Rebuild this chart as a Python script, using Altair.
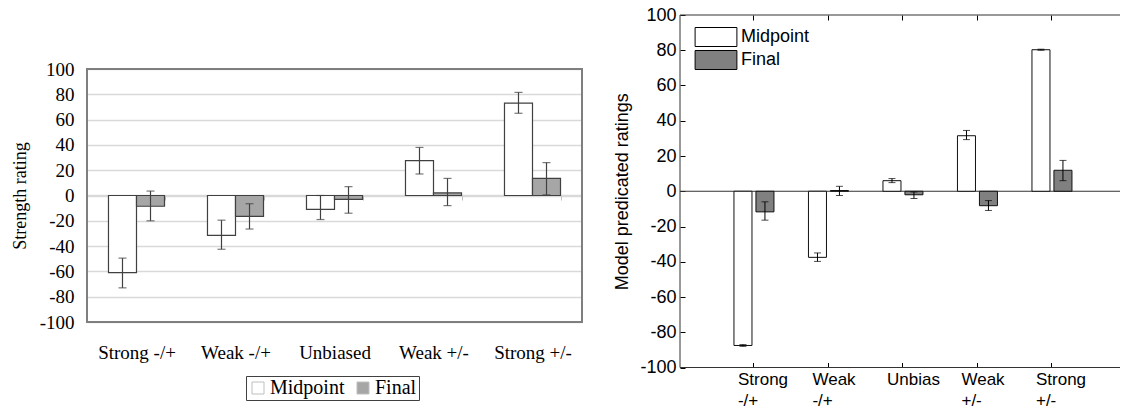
import altair as alt
import pandas as pd

series = ["Midpoint", "Final"]

left_categories = ["Strong -/+", "Weak -/+", "Unbiased", "Weak +/-", "Strong +/-"]
left_midpoint = [-61, -31.5, -11, 27.5, 73]
left_midpoint_lo = [-73, -42.5, -19, 17, 65]
left_midpoint_hi = [-49.5, -19.5, 0, 38, 81.5]
left_final = [-8.5, -16.5, -3, 2, 13.5]
left_final_lo = [-20, -26.5, -14, -8, 0.5]
left_final_hi = [3.5, -6.5, 7, 13.5, 26]

right_categories = ["Strong -/+", "Weak -/+", "Unbias", "Weak +/-", "Strong +/-"]
right_midpoint = [-87.5, -37.5, 6, 31.5, 80.3]
right_midpoint_lo = [-88, -39.8, 4.9, 29.3, 80]
right_midpoint_hi = [-87, -35, 7.2, 34.5, 80.6]
right_final = [-11.7, 0.4, -2, -8.2, 11.9]
right_final_lo = [-16.4, -2.4, -4.1, -10.9, 6]
right_final_hi = [-6, 2.8, -0.4, -5.3, 17.5]

y_ticks = list(range(-100, 101, 20))


def make_table(cats, mid, mid_lo, mid_hi, fin, fin_lo, fin_hi):
    rows = []
    for i, c in enumerate(cats):
        rows.append({"category": c, "series": "Midpoint", "value": mid[i], "lo": mid_lo[i], "hi": mid_hi[i]})
        rows.append({"category": c, "series": "Final", "value": fin[i], "lo": fin_lo[i], "hi": fin_hi[i]})
    return pd.DataFrame(rows)


df_left = make_table(left_categories, left_midpoint, left_midpoint_lo, left_midpoint_hi,
                     left_final, left_final_lo, left_final_hi)
df_right = make_table(right_categories, right_midpoint, right_midpoint_lo, right_midpoint_hi,
                      right_final, right_final_lo, right_final_hi)
one = pd.DataFrame({"d": [0]})
df_right_cats = pd.DataFrame({"category": right_categories})

SERIF = "Liberation Serif"
SANS = "Liberation Sans"
LW, H = 495, 352.5
RW = 440
HYPHEN_LABEL = "'' + datum.value"

# ---------------- left panel ----------------
lx_scale = alt.Scale(paddingInner=0.434, paddingOuter=0.217)
lxo = alt.XOffset("series:N", sort=series, scale=alt.Scale(paddingInner=0, paddingOuter=0))
ly_scale = alt.Scale(domain=[-100, 100], range=[307, 54], nice=False, zero=False)
lx_noaxis = alt.X("category:N", sort=left_categories, axis=None)

base_l = alt.Chart(df_left)

frame_l = alt.Chart(one).mark_rect(fillOpacity=0, stroke="#7f7f7f", strokeWidth=2).encode(
    x=alt.value(0), x2=alt.value(LW), y=alt.datum(100, axis=None), y2=alt.datum(-100)
)

bars_l = base_l.mark_bar(stroke="#404040", strokeWidth=1.2).encode(
    x=alt.X("category:N", sort=left_categories, scale=lx_scale,
            axis=alt.Axis(orient="bottom", offset=-172.5, tickBand="extent", tickSize=5,
                          tickColor="#bfbfbf", domainColor="#d9d9d9", domainWidth=1.5,
                          labelPadding=143, labelFont=SERIF, labelFontSize=19, labelColor="black",
                          labelAngle=0, title=None, grid=False)),
    xOffset=lxo,
    y=alt.Y("value:Q", scale=ly_scale,
            axis=alt.Axis(orient="left", values=y_ticks, labelExpr=HYPHEN_LABEL, grid=True,
                          gridColor="#d9d9d9", gridWidth=1.5,
                          domain=False, ticks=False, labelPadding=13, labelFont=SERIF,
                          labelFontSize=19, labelColor="black", title="Strength rating",
                          titleFont=SERIF, titleFontSize=18, titleFontWeight="normal",
                          titleColor="black", titlePadding=10)),
    color=alt.Color("series:N", sort=series,
                    scale=alt.Scale(domain=series, range=["#ffffff", "#a6a6a6"]),
                    legend=alt.Legend(orient="none", legendX=159, legendY=361, direction="horizontal",
                                      title=None, strokeColor="#404040", padding=2,
                                      symbolType="square", symbolSize=144,
                                      symbolStrokeColor="#bfbfbf", symbolStrokeWidth=1,
                                      labelFont=SERIF, labelFontSize=20, labelColor="black",
                                      labelOffset=2, columnPadding=8)),
)

err_l = base_l.mark_rule(color="#404040", strokeWidth=1.2).encode(
    x=lx_noaxis, xOffset=lxo, y=alt.Y("lo:Q", axis=None), y2="hi:Q"
)
cap_lo_l = base_l.mark_tick(color="#404040", size=8, thickness=1.2).encode(
    x=lx_noaxis, xOffset=lxo, y=alt.Y("lo:Q", axis=None)
)
cap_hi_l = base_l.mark_tick(color="#404040", size=8, thickness=1.2).encode(
    x=lx_noaxis, xOffset=lxo, y=alt.Y("hi:Q", axis=None)
)

left = (alt.layer(frame_l, bars_l, err_l, cap_lo_l, cap_hi_l)
        .resolve_axis(x="independent", y="independent")
        .properties(width=LW, height=H))

# ---------------- right panel ----------------
rx_scale = alt.Scale(paddingInner=0.4631, paddingOuter=0.6846, align=0.529)
rxo = alt.XOffset("series:N", sort=series, scale=alt.Scale(paddingInner=0.18, paddingOuter=0))
ry_scale = alt.Scale(domain=[-100, 100], nice=False, zero=False)
rx_noaxis = alt.X("category:N", sort=right_categories, axis=None)

base_r = alt.Chart(df_right)

bars_r = base_r.mark_bar(stroke="#111111", strokeWidth=1).encode(
    x=alt.X("category:N", sort=right_categories, scale=rx_scale,
            axis=alt.Axis(orient="bottom", offset=-5, tickSize=5, tickColor="black", domain=False,
                          labelAlign="left", labelOffset=-16, labelExpr="split(datum.label, ' ')",
                          labelLineHeight=21, labelPadding=4, labelFont=SANS, labelFontSize=17,
                          labelColor="black", labelAngle=0, title=None, grid=False)),
    xOffset=rxo,
    y=alt.Y("value:Q", scale=ry_scale,
            axis=alt.Axis(orient="left", values=y_ticks, labelExpr=HYPHEN_LABEL, offset=-5,
                          tickSize=5, tickColor="black",
                          domain=False, grid=False, labelPadding=4, labelFont=SANS, labelFontSize=18,
                          labelColor="black", title="Model predicated ratings", titleFont=SANS,
                          titleFontSize=18, titleFontWeight="normal", titleColor="black",
                          titlePadding=8)),
    color=alt.Color("series:N", sort=series,
                    scale=alt.Scale(domain=series, range=["#ffffff", "#808080"]),
                    legend=alt.Legend(orient="none", legendX=26, legendY=12, direction="vertical",
                                      title=None, symbolType="M-2.2,-1H2.2V1H-2.2Z", symbolSize=361,
                                      symbolStrokeColor="black", symbolStrokeWidth=1,
                                      labelFont=SANS, labelFontSize=18, labelColor="black",
                                      labelOffset=15, rowPadding=-1)),
)

err_r = base_r.mark_rule(color="black", strokeWidth=1).encode(
    x=rx_noaxis, xOffset=rxo, y=alt.Y("lo:Q", axis=None), y2="hi:Q"
)
cap_lo_r = base_r.mark_tick(color="black", size=7, thickness=1).encode(
    x=rx_noaxis, xOffset=rxo, y=alt.Y("lo:Q", axis=None)
)
cap_hi_r = base_r.mark_tick(color="black", size=7, thickness=1).encode(
    x=rx_noaxis, xOffset=rxo, y=alt.Y("hi:Q", axis=None)
)

zero_r = alt.Chart(one).mark_rule(color="#333333", strokeWidth=1).encode(y=alt.datum(0, axis=None))
top_r = alt.Chart(one).mark_rule(color="#333333", strokeWidth=1).encode(y=alt.datum(100, axis=None))
bottom_r = alt.Chart(one).mark_rule(color="#333333", strokeWidth=1).encode(y=alt.datum(-100, axis=None))
leftline_r = alt.Chart(one).mark_rule(color="#333333", strokeWidth=1).encode(x=alt.value(0))

top_axis_r = alt.Chart(df_right_cats).mark_point(opacity=0).encode(
    x=alt.X("category:N", sort=right_categories,
            axis=alt.Axis(orient="top", offset=-5, tickSize=5, tickColor="black", domain=False,
                          labels=False, title=None, grid=False))
)

right = (alt.layer(zero_r, bars_r, err_r, cap_lo_r, cap_hi_r, top_r, bottom_r, leftline_r, top_axis_r)
         .resolve_axis(x="independent", y="independent")
         .properties(width=RW, height=H))

chart = (
    alt.hconcat(left, right, spacing=98, bounds="flush")
    .resolve_scale(x="independent", y="independent", color="independent", xOffset="independent")
    .resolve_legend(color="independent")
    .properties(padding={"left": 11, "top": 6, "right": 0, "bottom": 0}, background="white")
    .configure_view(strokeWidth=0)
    .configure_axis(labelFont=SERIF, titleFont=SERIF)
    .configure_legend(labelFont=SERIF)
)

chart.save("out.html", embed_options={"renderer": "svg", "actions": False})
